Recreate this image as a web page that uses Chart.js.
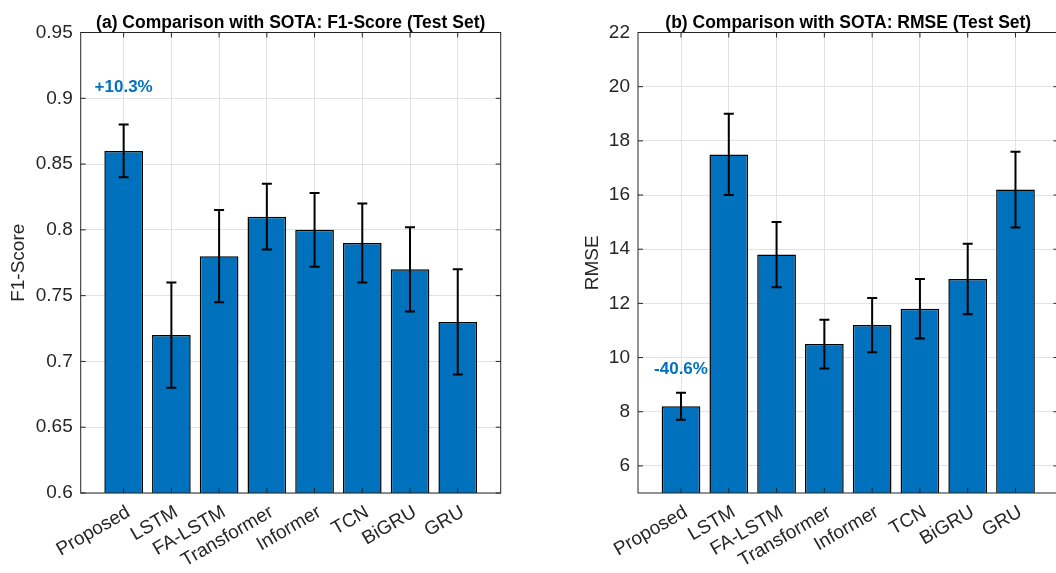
<!DOCTYPE html>
<html><head><meta charset="utf-8">
<script src="https://cdn.jsdelivr.net/npm/chart.js@4.4.0/dist/chart.umd.min.js"></script>
<style>
html,body{margin:0;padding:0;background:#fff;overflow:hidden;width:1056px;height:573px;}
#wrapA{position:absolute;left:0;top:0;width:528px;height:573px;}
#wrapB{position:absolute;left:528px;top:0;width:540px;height:573px;}
</style></head><body>
<div id="wrapA"><canvas id="cA" width="528" height="573"></canvas></div>
<div id="wrapB"><canvas id="cB" width="540" height="573"></canvas></div>
<script>
const categories = ['Proposed','LSTM','FA-LSTM','Transformer','Informer','TCN','BiGRU','GRU'];
const f1Values = [0.86, 0.72, 0.78, 0.81, 0.80, 0.79, 0.77, 0.73];
const f1Errors = [0.02, 0.04, 0.035, 0.025, 0.028, 0.03, 0.032, 0.04];
const f1Ticks = [0.6, 0.65, 0.7, 0.75, 0.8, 0.85, 0.9, 0.95];
const rmseValues = [8.2, 17.5, 13.8, 10.5, 11.2, 11.8, 12.9, 16.2];
const rmseErrors = [0.5, 1.5, 1.2, 0.9, 1.0, 1.1, 1.3, 1.4];
const rmseTicks = [6, 8, 10, 12, 14, 16, 18, 20, 22];
const f1Note = '+10.3%';
const f1NoteY = 0.908;
const rmseNote = '-40.6%';
const rmseNoteY = 9.55;
const f1Title = '(a) Comparison with SOTA: F1-Score (Test Set)';
const rmseTitle = '(b) Comparison with SOTA: RMSE (Test Set)';

const FONT = "'Liberation Sans', Arial, Helvetica, sans-serif";
const BLUE = '#0072BD';
const AXC = '#262626';
const GRIDC = '#e2e2e2';

const decor = {
  id: 'decor',
  afterDatasetsDraw(chart, args, o) {
    const ctx = chart.ctx, a = chart.chartArea;
    const xs = chart.scales.x, ys = chart.scales.y;
    ctx.save();
    // error bars
    ctx.strokeStyle = '#000'; ctx.lineWidth = 2;
    o.values.forEach((v, i) => {
      const px = xs.getPixelForValue(i);
      const t = ys.getPixelForValue(v + o.errors[i]);
      const b = ys.getPixelForValue(v - o.errors[i]);
      ctx.beginPath();
      ctx.moveTo(px, t); ctx.lineTo(px, b);
      ctx.moveTo(px - 5, t); ctx.lineTo(px + 5, t);
      ctx.moveTo(px - 5, b); ctx.lineTo(px + 5, b);
      ctx.stroke();
    });
    // inner ticks
    ctx.strokeStyle = AXC; ctx.lineWidth = 1;
    ctx.beginPath();
    xs.ticks.forEach(tk => {
      const px = xs.getPixelForValue(tk.value);
      ctx.moveTo(px, a.bottom); ctx.lineTo(px, a.bottom - 5);
      ctx.moveTo(px, a.top); ctx.lineTo(px, a.top + 5);
    });
    ys.ticks.forEach(tk => {
      const py = ys.getPixelForValue(tk.value);
      ctx.moveTo(a.left, py); ctx.lineTo(a.left + 5, py);
      ctx.moveTo(a.right, py); ctx.lineTo(a.right - 5, py);
    });
    ctx.stroke();
    ctx.strokeStyle = AXC;
    ctx.strokeRect(a.left, a.top, a.right - a.left, a.bottom - a.top);
    // annotation
    ctx.fillStyle = BLUE;
    ctx.font = 'bold 17px ' + FONT;
    ctx.textAlign = 'center'; ctx.textBaseline = 'middle';
    ctx.fillText(o.note, xs.getPixelForValue(0), ys.getPixelForValue(o.noteY));
    // title
    ctx.fillStyle = '#000';
    ctx.font = 'bold 17.5px ' + FONT;
    ctx.textBaseline = 'alphabetic';
    ctx.fillText(o.title, (a.left + a.right) / 2, 27.5);
    ctx.restore();
  }
};

function makeChart(id, values, errors, ticks, yMin, yMax, yTitle, yTitlePad, yWidth, padRight, note, noteY, title) {
  return new Chart(document.getElementById(id), {
    type: 'bar',
    data: {
      datasets: [{
        data: values.map((v, i) => ({x: i, y: v})),
        backgroundColor: BLUE,
        borderColor: '#000',
        borderWidth: 1.5,
        borderSkipped: false,
        categoryPercentage: 1,
        barPercentage: 0.81
      }]
    },
    options: {
      responsive: false,
      animation: false,
      layout: {padding: {top: 32.5, right: padRight, left: 0, bottom: 0}},
      plugins: {
        legend: {display: false},
        tooltip: {enabled: false},
        decor: {values, errors, note, noteY, title}
      },
      scales: {
        x: {
          type: 'linear', min: -0.9, max: 7.9, offset: false,
          grid: {color: GRIDC, drawTicks: false, offset: false},
          border: {display: false},
          afterBuildTicks: s => { s.ticks = categories.map((c, i) => ({value: i})); },
          afterFit: s => { s.height = 80; },
          ticks: {
            autoSkip: false, minRotation: 30, maxRotation: 30, padding: 8, labelOffset: 5,
            color: AXC, font: {family: FONT, size: 19},
            callback: v => categories[v]
          }
        },
        y: {
          min: yMin, max: yMax,
          grid: {color: GRIDC, drawTicks: false},
          border: {display: false},
          afterBuildTicks: s => { s.ticks = ticks.map(v => ({value: v})); },
          afterFit: s => { s.width = yWidth; },
          ticks: {
            padding: 8, color: AXC, font: {family: FONT, size: 19},
            callback: v => String(+Number(v).toFixed(2))
          },
          title: {
            display: true, text: yTitle, color: AXC,
            font: {family: FONT, size: 19},
            padding: {top: yTitlePad, bottom: 0}
          }
        }
      }
    },
    plugins: [decor]
  });
}

makeChart('cA', f1Values, f1Errors, f1Ticks, 0.6, 0.95, 'F1-Score', 7.6, 80.7, 27.3, f1Note, f1NoteY, f1Title);
makeChart('cB', rmseValues, rmseErrors, rmseTicks, 5, 22, 'RMSE', 53.6, 110, 9.5, rmseNote, rmseNoteY, rmseTitle);
</script>
</body></html>
